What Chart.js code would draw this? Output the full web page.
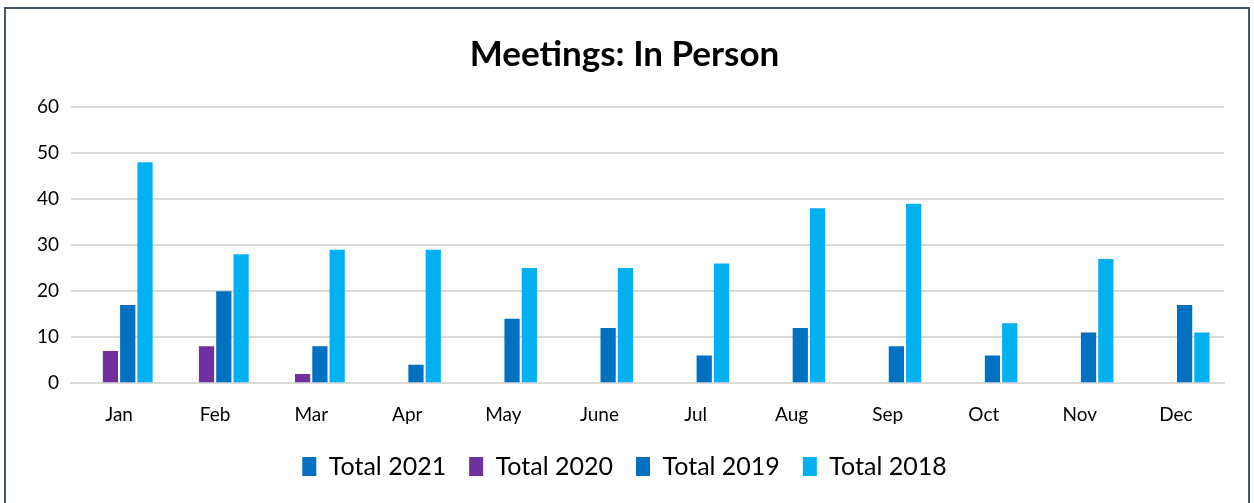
<!DOCTYPE html>
<html>
<head>
<meta charset="utf-8">
<script src="https://cdn.jsdelivr.net/npm/chart.js@4"></script>
<style>
  body { margin: 0; background: #fff; }
  #box {
    position: absolute; left: 4px; top: 7px;
    width: 1246px; height: 500px;
    border: 2px solid #475569; box-sizing: border-box;
  }
  #box canvas { display: block; }
</style>
</head>
<body>
<div id="box"><canvas id="chart" width="1242" height="496"></canvas></div>
<script>
const months = ['Jan', 'Feb', 'Mar', 'Apr', 'May', 'June', 'Jul', 'Aug', 'Sep', 'Oct', 'Nov', 'Dec'];
const total2021 = [0, 0, 0, 0, 0, 0, 0, 0, 0, 0, 0, 0];
const total2020 = [7, 8, 2, 0, 0, 0, 0, 0, 0, 0, 0, 0];
const total2019 = [17, 20, 8, 4, 14, 12, 6, 12, 8, 6, 11, 17];
const total2018 = [48, 28, 29, 29, 25, 25, 26, 38, 39, 13, 27, 11];
const yTicks = [0, 10, 20, 30, 40, 50, 60];

const font = 'Lato, "Noto Sans", sans-serif';

function series(label, data, color) {
  return {
    label: label,
    data: data,
    backgroundColor: color,
    borderWidth: 0,
    categoryPercentage: 0.72,
    barPercentage: 0.88
  };
}

new Chart(document.getElementById('chart').getContext('2d'), {
  type: 'bar',
  data: {
    labels: months,
    datasets: [
      series('Total 2021', total2021, '#0070c0'),
      series('Total 2020', total2020, '#7030a0'),
      series('Total 2019', total2019, '#0070c0'),
      series('Total 2018', total2018, '#00b0f0')
    ]
  },
  options: {
    responsive: false,
    animation: false,
    layout: { padding: { left: 19, right: 24, top: 0, bottom: 16 } },
    plugins: {
      title: {
        display: true,
        text: 'Meetings: In Person',
        color: '#000',
        font: { family: font, size: 35, weight: 'bold' },
        padding: { top: 25, bottom: 31 }
      },
      legend: {
        position: 'bottom',
        labels: {
          color: '#000',
          font: { family: font, size: 25 },
          boxWidth: 14,
          boxHeight: 19,
          padding: 23
        }
      },
      tooltip: { enabled: false }
    },
    scales: {
      x: {
        grid: { display: false },
        border: { color: '#d9d9d9', width: 2 },
        ticks: { color: '#000', font: { family: font, size: 19 }, padding: 12 },
        afterFit: axis => { axis.height -= 7; }
      },
      y: {
        min: yTicks[0],
        max: yTicks[yTicks.length - 1],
        afterBuildTicks: axis => { axis.ticks = yTicks.map(v => ({ value: v })); },
        grid: { color: '#d9d9d9', lineWidth: 2, drawTicks: false },
        border: { display: false },
        ticks: { color: '#000', font: { family: font, size: 19 }, padding: 12 }
      }
    }
  }
});
</script>
</body>
</html>
